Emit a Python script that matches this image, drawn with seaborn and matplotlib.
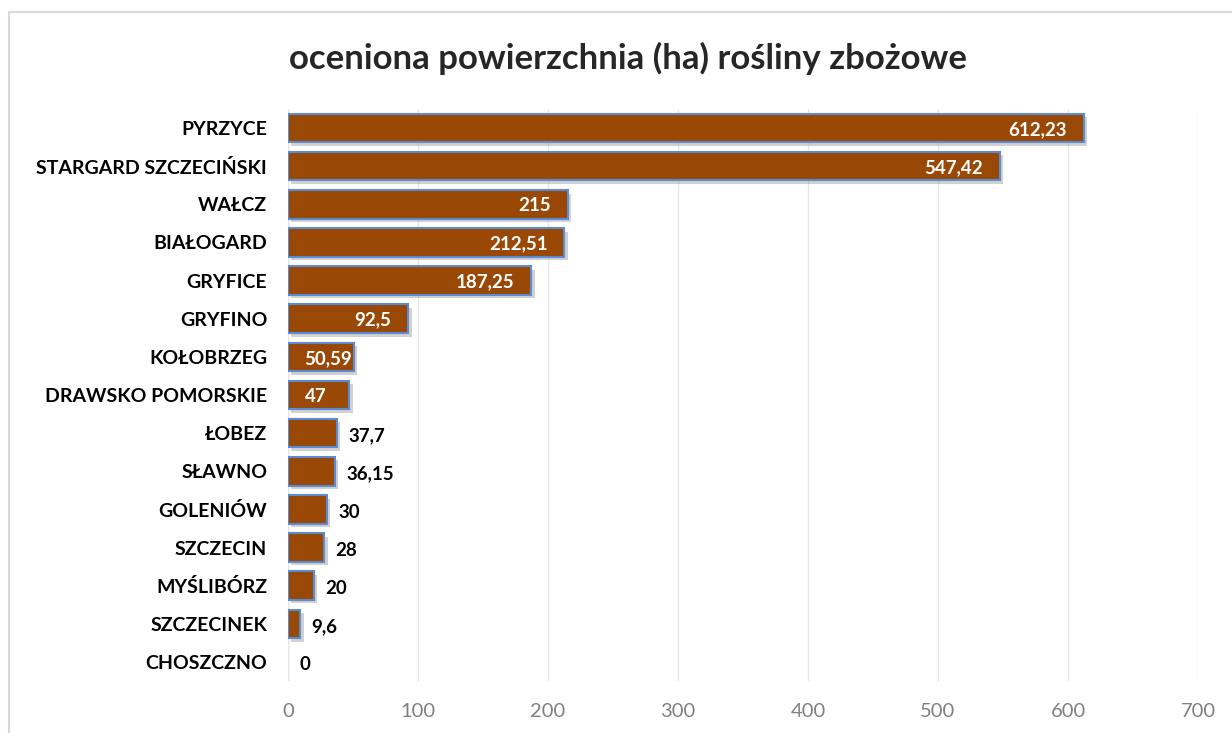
import matplotlib
matplotlib.use("Agg")
import matplotlib.pyplot as plt
import matplotlib.patheffects as pe
from matplotlib.patches import Rectangle
import seaborn as sns

# data
districts = ["PYRZYCE", "STARGARD SZCZECIŃSKI", "WAŁCZ", "BIAŁOGARD", "GRYFICE",
             "GRYFINO", "KOŁOBRZEG", "DRAWSKO POMORSKIE", "ŁOBEZ", "SŁAWNO",
             "GOLENIÓW", "SZCZECIN", "MYŚLIBÓRZ", "SZCZECINEK", "CHOSZCZNO"]
area_ha = [612.23, 547.42, 215, 212.51, 187.25,
           92.5, 50.59, 47, 37.7, 36.15,
           30, 28, 20, 9.6, 0]
area_labels = ["612,23", "547,42", "215", "212,51", "187,25",
               "92,5", "50,59", "47", "37,7", "36,15",
               "30", "28", "20", "9,6", "0"]
x_ticks = [0, 100, 200, 300, 400, 500, 600, 700]

sns.set_theme(style="white")
plt.rcParams["font.family"] = ["Lato", "DejaVu Sans"]

fig = plt.figure(figsize=(12.32, 7.33), dpi=100)
ax = fig.add_axes([288 / 1232, 1 - 681 / 733, 910 / 1232, 572 / 733])

sns.barplot(x=area_ha, y=districts, orient="h", color="#994806", saturation=1,
            edgecolor="#5B8BD0", linewidth=1.5, width=0.75, ax=ax)

for bar, v in zip(ax.patches, area_ha):
    if v == 0:
        bar.set_visible(False)
        continue
    bar.set_path_effects([pe.SimplePatchShadow(offset=(2.5, -2.5), shadow_rgbFace="#8c8c8c", alpha=0.4),
                          pe.Normal()])

# value labels (inside end for big bars, outside for small ones)
for i, (v, lab) in enumerate(zip(area_ha, area_labels)):
    if v >= 45:
        if v > 80:
            ax.annotate(lab, (v, i), xytext=(-12, -1), textcoords="offset points",
                        ha="right", va="center", color="white", fontsize=13.5, fontweight="bold")
        else:
            ax.annotate(lab, (0, i), xytext=(12, -1), textcoords="offset points",
                        ha="left", va="center", color="white", fontsize=13.5, fontweight="bold")
    else:
        ax.annotate(lab, (v, i), xytext=(8, -2), textcoords="offset points",
                    ha="left", va="center", color="black", fontsize=13.5, fontweight="bold")

ax.set_xlim(0, 700)
ax.set_xticks(x_ticks)
ax.set_xticklabels([str(t) for t in x_ticks], color="#808080", fontsize=14.5)
ax.tick_params(axis="x", length=0, pad=16)
ax.tick_params(axis="y", length=0, pad=15)
for t in ax.get_yticklabels():
    t.set_fontweight("bold")
    t.set_fontsize(14)
    t.set_color("black")
ax.set_xlabel("")
ax.set_ylabel("")
ax.grid(axis="x", color="#E6E6E6", linewidth=1)
ax.set_axisbelow(True)
for s in ax.spines.values():
    s.set_visible(False)
ax.axvline(0, color="#D0D0D0", linewidth=1, zorder=0.5)

fig.text(628 / 1232, 1 - 58 / 733, "oceniona powierzchnia (ha) rośliny zbożowe",
         ha="center", va="center", fontsize=25, fontweight="bold")

# outer chart frame
fig.patches.append(Rectangle((9 / 1232, -0.1), 1.2, 1 - 12 / 733 + 0.1, transform=fig.transFigure,
                             fill=False, edgecolor="#D9D9D9", linewidth=1.5))

fig.savefig("out.png", dpi=100)
